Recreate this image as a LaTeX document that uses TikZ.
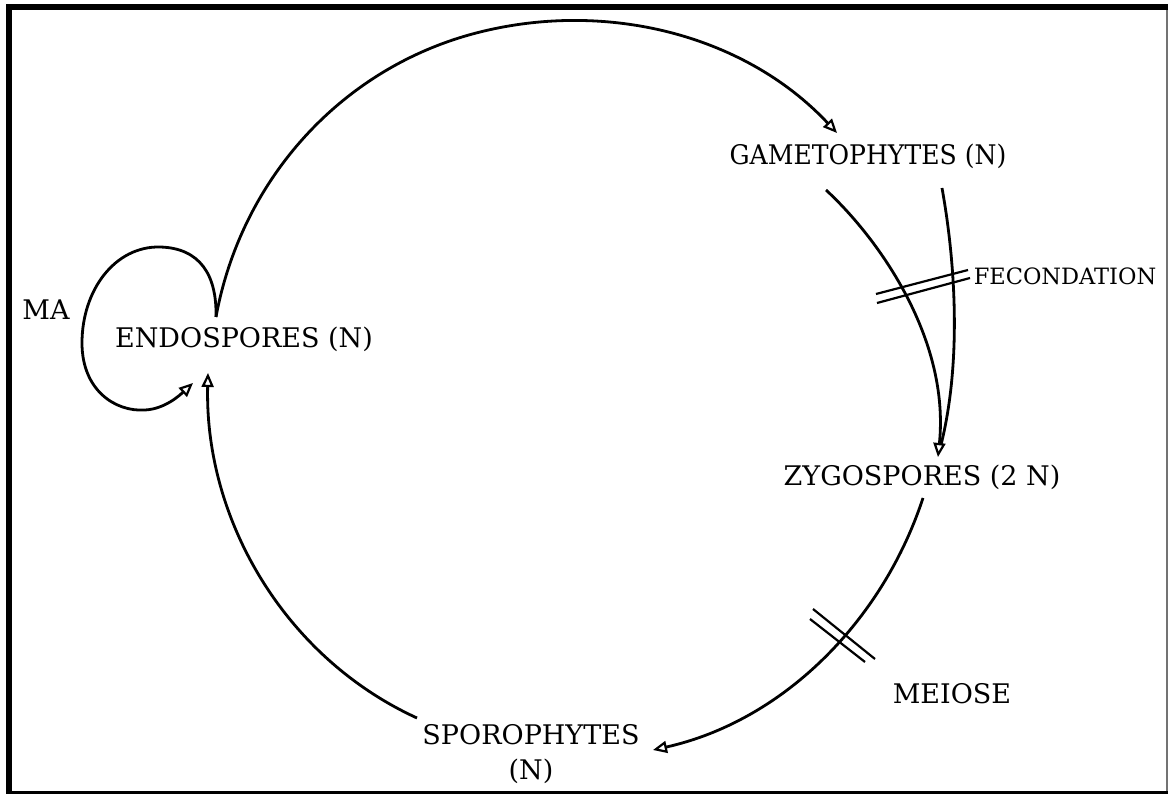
\documentclass[tikz,border=0pt]{standalone}
\usepackage{fontspec}
\setmainfont{DejaVu Serif}
\usetikzlibrary{arrows.meta}
\begin{document}
\begin{tikzpicture}[x=1pt,y=-1pt,
  lbl/.style={inner sep=0pt, anchor=base, font=\fontsize{27}{35}\selectfont},
  small/.style={font=\fontsize{22.5}{28}\selectfont},
  link/.style={line width=2.8pt, -{Triangle[open,length=14pt,width=12pt,line width=2.2pt]}},
  plain/.style={line width=2.8pt},
  cut/.style={line width=2.2pt}]
\useasboundingbox (0,0) rectangle (1168,794);
% frame
\fill (6,4) rectangle (1168,10);
\fill (6,4) rectangle (12,794);
\fill (6,791) rectangle (1168,794);
\fill[black!55] (1165.5,10) rectangle (1167.5,791);

% stages of the cycle
\node[lbl] (gam) at (868,165) {\scalebox{0.93}[1]{GAMETOPHYTES (N)}};
\node[lbl] (endo) at (244,348) {ENDOSPORES (N)};
\node[lbl] (zyg) at (922,485) {ZYGOSPORES (2 N)};
\node[lbl, anchor=north, align=center] (spo) at (531,724.5) {SPOROPHYTES\\(N)};
\node[lbl] (ma) at (46,320) {MA};
\node[lbl, small] (fec) at (1065,285) {FECONDATION};
\node[lbl] (mei) at (952,703) {MEIOSE};

% endospores -> gametophytes
\draw[link] ([shift={(-28,-31)}]endo.base) .. controls (240.7,182.2) and (337.3,72.3) .. (468.8,35)
  .. controls (600.3,-2) and (743.4,33) .. ([shift={(-31,-32)}]gam.base);
% asexual loop back to endospores
\draw[link] ([shift={(-28,-31)}]endo.base) .. controls (217,275) and (200,248) .. (160,247)
  .. controls (115,246) and (82,290) .. (82,343)
  .. controls (82,390) and (115,412) .. (145,410)
  .. controls (165,409) and (180,395) .. ([shift={(-51,35)}]endo.base);
% sporophytes -> endospores
\draw[link] ([shift={(-114,-6.5)}]spo.north) .. controls (284.2,657.2) and (204.4,519) .. ([shift={(-36,25)}]endo.base);
% zygospores -> sporophytes
\draw[link] ([shift={(1,13)}]zyg.base) .. controls (881.8,623.2) and (781.6,721.3) .. ([shift={(122,25.5)}]spo.north);
% gametophytes -> zygospores (two strands)
\draw[link] ([shift={(-42,25)}]gam.base) .. controls (880,240) and (950,340) .. ([shift={(16,-28)}]zyg.base);
\draw[plain, shorten >=13pt] ([shift={(74,23)}]gam.base) .. controls (955,260) and (962,360) .. ([shift={(16,-28)}]zyg.base);

% fecondation and meiose marks
\draw[cut] (876,294) -- (968,270);
\draw[cut] (877,303) -- (970,278);
\draw[cut] (813,609) -- (875,659);
\draw[cut] (810,619) -- (865,662);
\end{tikzpicture}
\end{document}
